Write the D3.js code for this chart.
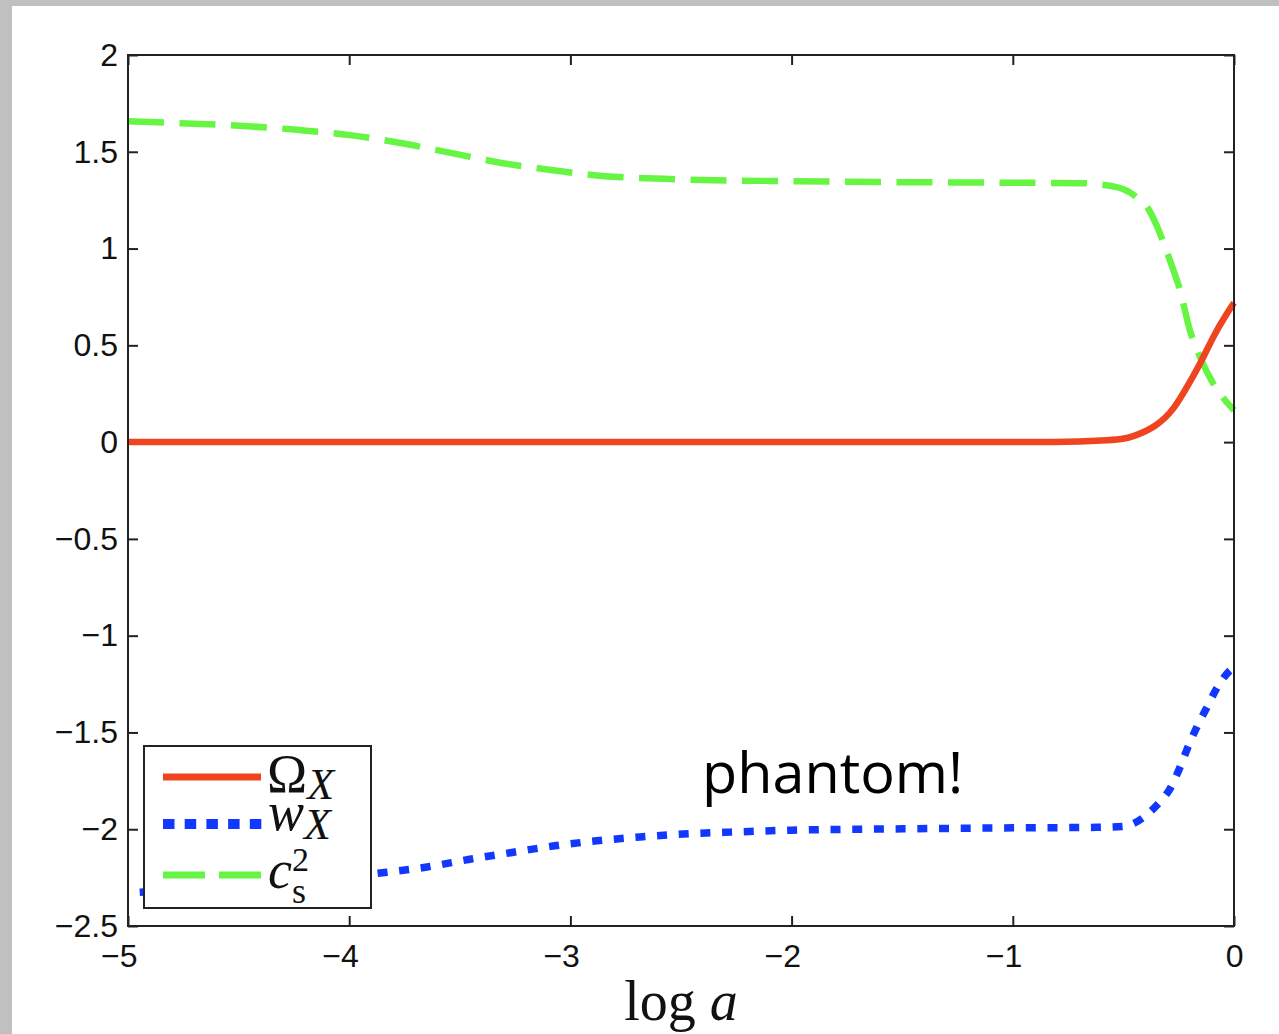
<!DOCTYPE html>
<html>
<head>
<meta charset="utf-8">
<title>phantom</title>
<script src="https://cdn.jsdelivr.net/npm/d3@7"></script>
<style>
body { margin: 0; background: #fff; }
svg { display: block; }
</style>
</head>
<body>
<script>
  // data (x is log a)
  var omegaLogA = [-5, -1, -0.8, -0.7, -0.6, -0.5, -0.46, -0.35, -0.27, -0.205, -0.15, -0.088, -0.04, 0];
  var omegaVals = [0, 0, 0.001, 0.003, 0.007, 0.016, 0.026, 0.08, 0.17, 0.3, 0.41, 0.56, 0.65, 0.72];

  var wLogA = [-5, -4.5, -3.861, -3.648, -3.454, -3.264, -3.079, -2.88, -2.685, -2.491, -2.278, -2, -1.5, -1, -0.6, -0.5, -0.41, -0.348, -0.289, -0.244, -0.208, -0.167, -0.122, -0.077, -0.018, 0];
  var wVals = [-2.33, -2.29, -2.226, -2.195, -2.155, -2.12, -2.087, -2.06, -2.04, -2.025, -2.015, -2.005, -1.998, -1.993, -1.99, -1.985, -1.94, -1.875, -1.79, -1.68, -1.575, -1.47, -1.37, -1.27, -1.18, -1.165];

  var cs2LogA = [-5, -4.765, -4.458, -4.222, -3.996, -3.761, -3.535, -3.305, -3.079, -2.844, -2.685, -2.5, -2, -1.5, -1, -0.7, -0.53, -0.44, -0.39, -0.35, -0.29, -0.244, -0.2, -0.154, -0.095, 0];
  var cs2Vals = [1.658, 1.648, 1.632, 1.612, 1.586, 1.544, 1.493, 1.441, 1.405, 1.374, 1.364, 1.357, 1.348, 1.343, 1.34, 1.338, 1.317, 1.265, 1.21, 1.12, 0.94, 0.785, 0.58, 0.44, 0.305, 0.165];

  var xTicks = [-5, -4, -3, -2, -1, 0];
  var yTicks = [-2.5, -2, -1.5, -1, -0.5, 0, 0.5, 1, 1.5, 2];

  var width = 1279, height = 1034;
  var mLeft = 128, mRight = 1234, mTop = 55, mBottom = 926;

  var svg = d3.select("body").append("svg").attr("width", width).attr("height", height);

  // grey frame of the screenshot
  svg.append("rect").attr("width", width).attr("height", height).attr("fill", "#c0c0c0");
  svg.append("rect").attr("x", 12).attr("y", 6).attr("width", width - 12).attr("height", height - 6).attr("fill", "#fff");

  var x = d3.scaleLinear().domain([-5, 0]).range([mLeft, mRight]);
  var y = d3.scaleLinear().domain([-2.5, 2]).range([mBottom, mTop]);

  function fmt(d) { return (d < 0 ? "\u2212" : "") + Math.abs(d); }

  var sans = "'Liberation Sans', Arial, sans-serif";

  // axes, ticks inside
  var gx = svg.append("g").attr("transform", "translate(0," + mBottom + ")")
    .call(d3.axisBottom(x).tickValues(xTicks).tickSizeInner(-10).tickSizeOuter(0).tickFormat(fmt));
  gx.selectAll("text").attr("y", 41).attr("dy", 0).attr("dx", 9).attr("text-anchor", "end");

  var gy = svg.append("g").attr("transform", "translate(" + mLeft + ",0)")
    .call(d3.axisLeft(y).tickValues(yTicks).tickSizeInner(-10).tickSizeOuter(0).tickPadding(10).tickFormat(fmt));

  [gx, gy].forEach(function(g) {
    g.attr("font-family", sans).attr("font-size", 32);
    g.selectAll("text").attr("fill", "#111");
  });

  svg.append("g").attr("transform", "translate(0," + mTop + ")")
    .call(d3.axisTop(x).tickValues(xTicks).tickSizeInner(-10).tickSizeOuter(0).tickFormat(""));
  svg.append("g").attr("transform", "translate(" + mRight + ",0)")
    .call(d3.axisRight(y).tickValues(yTicks).tickSizeInner(-10).tickSizeOuter(0).tickFormat(""));

  svg.selectAll(".domain").remove();
  svg.selectAll(".tick line").attr("stroke", "#222").attr("stroke-width", 2);

  // curves
  var line = d3.line()
    .x(function(d) { return x(d[0]); })
    .y(function(d) { return y(d[1]); })
    .curve(d3.curveMonotoneX);

  var plot = svg.append("g");
  plot.append("path")
    .attr("d", line(d3.zip(cs2LogA, cs2Vals)))
    .attr("fill", "none").attr("stroke", "#66f542").attr("stroke-width", 6.5)
    .attr("stroke-dasharray", "36,15.5");
  plot.append("path")
    .attr("d", line.curve(d3.curveBasis)(d3.zip(omegaLogA, omegaVals)))
    .attr("fill", "none").attr("stroke", "#f0431f").attr("stroke-width", 6.5);
  plot.append("path")
    .attr("d", line.curve(d3.curveMonotoneX)(d3.zip(wLogA, wVals)))
    .attr("fill", "none").attr("stroke", "#1238ff").attr("stroke-width", 7.5)
    .attr("stroke-dasharray", "10,11.7").attr("stroke-dashoffset", 10);

  // plot frame
  svg.append("rect")
    .attr("x", mLeft).attr("y", mTop).attr("width", mRight - mLeft).attr("height", mBottom - mTop)
    .attr("fill", "none").attr("stroke", "#222").attr("stroke-width", 2);

  // legend
  var legend = svg.append("g");
  legend.append("rect").attr("x", 144).attr("y", 746).attr("width", 227).attr("height", 162)
    .attr("fill", "#fff").attr("stroke", "#222").attr("stroke-width", 2);

  legend.append("line").attr("x1", 163).attr("x2", 261).attr("y1", 777).attr("y2", 777)
    .attr("stroke", "#f0431f").attr("stroke-width", 7);
  legend.append("line").attr("x1", 163).attr("x2", 263).attr("y1", 824).attr("y2", 824)
    .attr("stroke", "#1238ff").attr("stroke-width", 10).attr("stroke-dasharray", "11.5,10.2");
  legend.append("line").attr("x1", 163).attr("x2", 261).attr("y1", 875).attr("y2", 875)
    .attr("stroke", "#66f542").attr("stroke-width", 7).attr("stroke-dasharray", "42,14");

  var serif = "'Liberation Serif', 'Times New Roman', serif";
  var t1 = legend.append("text").attr("x", 267).attr("y", 792)
    .attr("font-family", serif).attr("font-size", 54).attr("fill", "#111");
  t1.append("tspan").text("\u03A9");
  t1.append("tspan").attr("font-style", "italic").attr("font-size", 44).attr("dy", 7).text("X");

  var t2 = legend.append("text").attr("x", 268).attr("y", 830)
    .attr("font-family", serif).attr("font-size", 54).attr("fill", "#111");
  t2.append("tspan").attr("font-style", "italic").text("w");
  t2.append("tspan").attr("font-style", "italic").attr("font-size", 44).attr("dy", 9).text("X");

  var t3 = legend.append("text").attr("x", 268).attr("y", 888)
    .attr("font-family", serif).attr("font-size", 54).attr("fill", "#111");
  t3.append("tspan").attr("font-style", "italic").text("c");
  legend.append("text").attr("x", 292).attr("y", 871)
    .attr("font-family", serif).attr("font-size", 34).attr("fill", "#111").text("2");
  legend.append("text").attr("x", 292).attr("y", 903)
    .attr("font-family", serif).attr("font-size", 36).attr("fill", "#111").text("s");

  // annotation
  svg.append("text").attr("x", 702).attr("y", 793)
    .attr("font-family", "'Open Sans', 'Noto Sans', sans-serif").attr("font-size", 57.5).attr("fill", "#000")
    .text("phantom!");

  // x axis title
  var xt = svg.append("text").attr("x", (mLeft + mRight) / 2).attr("y", 1020).attr("text-anchor", "middle")
    .attr("font-family", serif).attr("font-size", 56).attr("fill", "#111");
  xt.append("tspan").text("log ");
  xt.append("tspan").attr("font-style", "italic").text("a");
</script>
</body>
</html>
